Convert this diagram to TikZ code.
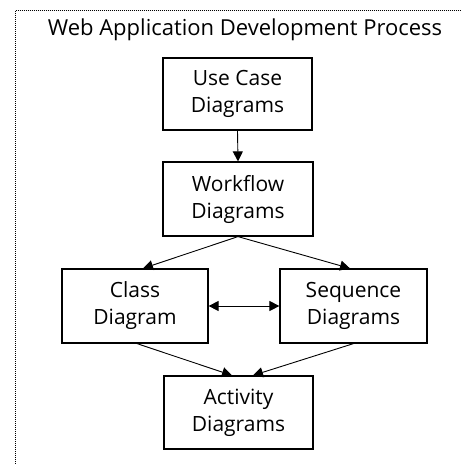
\documentclass[tikz,border=0pt]{standalone}
\usepackage{fontspec}
\setmainfont{Open Sans}
\usetikzlibrary{arrows.meta}
\begin{document}
\begin{tikzpicture}[x=1pt,y=-1pt,
  box/.style={draw=black,line width=1.2pt,rectangle,align=center,inner sep=0pt,
    font=\fontsize{21}{27}\selectfont},
  conn/.style={draw=black,line width=0.9pt,-{Triangle[length=10pt,width=10pt]}},
  dconn/.style={draw=black,line width=0.9pt,{Triangle[length=10pt,width=10pt]}-{Triangle[length=10pt,width=10pt]}}]
\useasboundingbox (0,0) rectangle (461,464);
\draw[line width=1pt,dash pattern=on 1pt off 1pt] (15.5,464) -- (15.5,10) -- (461,10);
\node[anchor=base,inner sep=0pt] (title) at (245,35) {\fontsize{22}{26}\selectfont Web Application Development Process};
\node[box,minimum width=149pt,minimum height=72pt] (uc) at (237.5,94) {Use Case\\Diagrams};
\node[box,minimum width=150pt,minimum height=74pt] (wf) at (238,199) {Workflow\\Diagrams};
\node[box,minimum width=146pt,minimum height=74pt] (cl) at (135,306) {Class\\Diagram};
\node[box,minimum width=147pt,minimum height=74pt] (sq) at (353.5,306) {Sequence\\Diagrams};
\node[box,minimum width=149pt,minimum height=73pt] (ac) at (238.5,412.5) {Activity\\Diagrams};
\draw[conn] (uc.south) -- (wf.north);
\draw[conn] (wf.south) -- ([xshift=8pt]cl.north);
\draw[conn] (wf.south) -- ([xshift=-3.5pt]sq.north);
\draw[dconn] (cl.east) -- (sq.west);
\draw[conn] ([xshift=2pt]cl.south) -- ([xshift=-6.5pt]ac.north);
\draw[conn] (sq.south) -- ([xshift=14.5pt]ac.north);
\end{tikzpicture}
\end{document}
